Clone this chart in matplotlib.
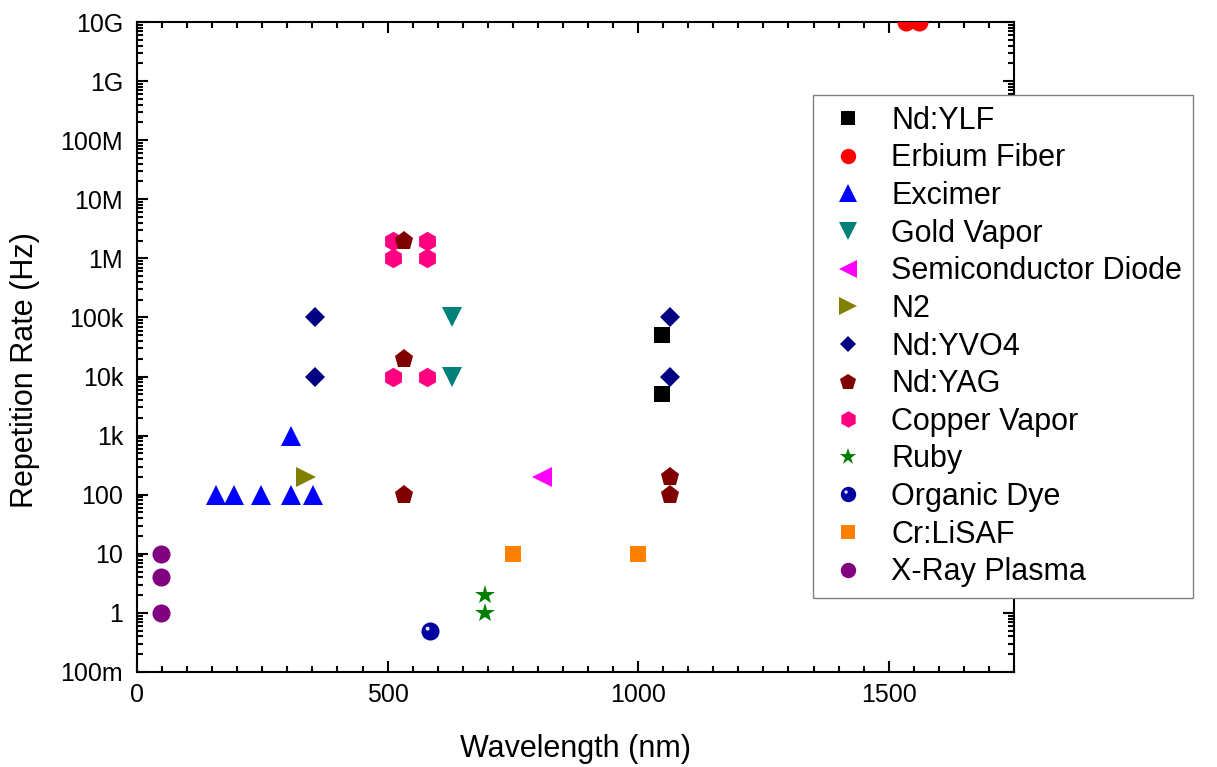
import matplotlib
matplotlib.use("Agg")
import matplotlib.pyplot as plt
import numpy as np
from matplotlib.path import Path
from matplotlib.ticker import FixedLocator, MultipleLocator, LogLocator, NullFormatter
from matplotlib.legend_handler import HandlerTuple

plt.rcParams['font.family'] = ['Liberation Sans', 'DejaVu Sans']

# data (wavelength nm, repetition rate Hz)
nd_ylf_x = [1047, 1047]
nd_ylf_y = [5e4, 5e3]
erbium_x = [1535, 1560]
erbium_y = [1e10, 1e10]
excimer_x = [157, 193, 248, 308, 351, 308]
excimer_y = [100, 100, 100, 100, 100, 1e3]
gold_x = [628, 628]
gold_y = [1e5, 1e4]
diode_x = [808]
diode_y = [200]
n2_x = [337]
n2_y = [200]
yvo4_x = [355, 355, 1064, 1064]
yvo4_y = [1e5, 1e4, 1e5, 1e4]
yag_x = [532, 532, 532, 1064, 1064]
yag_y = [2e6, 2e4, 100, 200, 100]
copper_x = [510, 510, 510, 578, 578, 578]
copper_y = [2e6, 1e6, 1e4, 2e6, 1e6, 1e4]
ruby_x = [694, 694]
ruby_y = [2, 1]
dye_x = [585]
dye_y = [0.5]
lisaf_x = [750, 1000]
lisaf_y = [10, 10]
xray_x = [47, 47, 47]
xray_y = [10, 4, 1]

ytick_vals = [0.1, 1, 10, 100, 1e3, 1e4, 1e5, 1e6, 1e7, 1e8, 1e9, 1e10]
ytick_labels = ['100m', '1', '10', '100', '1k', '10k', '100k', '1M', '10M', '100M', '1G', '10G']

# small white highlight for the "sphere" marker; the stray moveto keeps the scale
circ = Path.circle((-0.32, 0.32), 0.22)
hl_verts = np.vstack([[[1.0, 1.0]], circ.vertices])
hl_codes = np.concatenate([[Path.MOVETO], circ.codes])
highlight = Path(hl_verts, hl_codes)

fig = plt.figure(figsize=(12.17, 7.67), dpi=100)
ax = fig.add_axes([0.1126, 0.1239, 0.7206, 0.8474])

series = [
    ("Nd:YLF", nd_ylf_x, nd_ylf_y, 's', '#000000', 12),
    ("Erbium Fiber", erbium_x, erbium_y, 'o', '#ff0000', 13),
    ("Excimer", excimer_x, excimer_y, '^', '#0000ff', 14.5),
    ("Gold Vapor", gold_x, gold_y, 'v', '#00807a', 14.5),
    ("Semiconductor Diode", diode_x, diode_y, '<', '#ff00ff', 14.5),
    ("N2", n2_x, n2_y, '>', '#808000', 14.5),
    ("Nd:YVO4", yvo4_x, yvo4_y, 'D', '#000080', 10),
    ("Nd:YAG", yag_x, yag_y, 'p', '#800000', 14),
    ("Copper Vapor", copper_x, copper_y, 'h', '#ff0080', 14),
    ("Ruby", ruby_x, ruby_y, '*', '#008000', 15),
    ("Organic Dye", dye_x, dye_y, 'o', '#0000a0', 13),
    ("Cr:LiSAF", lisaf_x, lisaf_y, 's', '#ff8000', 12),
    ("X-Ray Plasma", xray_x, xray_y, 'o', '#800080', 13),
]

handles = []
for i, (name, xs, ys, mk, col, ms) in enumerate(series):
    ln, = ax.plot(xs, ys, linestyle='none', marker=mk, color=col, markersize=ms,
                  markeredgewidth=0, zorder=20 - i, label=name)
    if name == "Organic Dye":
        hl, = ax.plot(xs, ys, linestyle='none', marker=highlight, color='#e0e0ff',
                      markersize=ms, markeredgewidth=0, zorder=21 - i)
        handles.append((ln, hl))
    else:
        handles.append(ln)

ax.set_yscale('log')
ax.set_xlim(0, 1750)
ax.set_ylim(0.1, 1e10)

ax.xaxis.set_major_locator(MultipleLocator(500))
ax.xaxis.set_minor_locator(MultipleLocator(50))
ax.yaxis.set_major_locator(FixedLocator(ytick_vals))
ax.set_yticklabels(ytick_labels)
ax.yaxis.set_minor_locator(LogLocator(base=10, subs=np.arange(2, 10), numticks=30))
ax.yaxis.set_minor_formatter(NullFormatter())

ax.tick_params(which='both', direction='in', top=True, right=True, width=1.5)
ax.tick_params(which='major', length=8, labelsize=18)
ax.tick_params(which='minor', length=4)
ax.tick_params(axis='y', which='major', pad=10)
ax.tick_params(axis='x', which='major', pad=8)
for sp in ax.spines.values():
    sp.set_linewidth(1.5)

ax.set_xlabel("Wavelength (nm)", fontsize=22)
ax.set_ylabel("Repetition Rate (Hz)", fontsize=22)
ax.xaxis.set_label_coords(0.5, -0.095)
ax.yaxis.set_label_coords(-0.111, 0.465)

leg = ax.legend(handles, [s[0] for s in series], loc='upper left',
                bbox_to_anchor=(0.668, 0.8761), bbox_transform=fig.transFigure,
                fontsize=22, markerscale=0.85, labelspacing=0.25,
                handlelength=1.6, handletextpad=0.62, borderpad=0.35,
                borderaxespad=0, fancybox=False, framealpha=1, edgecolor='#808080',
                handler_map={tuple: HandlerTuple(ndivide=1, pad=0)})
leg.get_frame().set_linewidth(1.0)
leg.set_zorder(30)

fig.savefig("out.png", dpi=100)
